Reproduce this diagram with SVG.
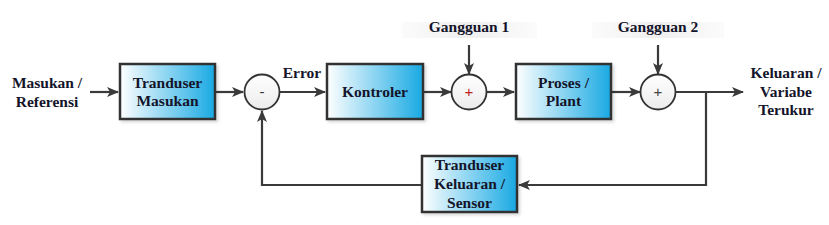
<svg xmlns="http://www.w3.org/2000/svg" width="829" height="225" viewBox="0 0 829 225">
<style>
.box{fill:url(#bg);stroke:#333;stroke-width:2.5}
.sum{fill:url(#cg);stroke:#333;stroke-width:1.8}
.t{font-family:'Liberation Serif',serif;font-weight:bold;font-size:15.5px;fill:#14142a;text-anchor:middle}
.w{fill:none;stroke:#3a3a3a;stroke-width:2.2}
.sign{font-family:'Liberation Sans',sans-serif;font-size:15px;text-anchor:middle}
</style>
<defs>
<linearGradient id="bg" x1="0" y1="0" x2="1" y2="0">
<stop offset="0" stop-color="#ffffff"/>
<stop offset="0.55" stop-color="#7fd0f0"/>
<stop offset="1" stop-color="#19a9e3"/>
</linearGradient>
<linearGradient id="cg" x1="0" y1="0" x2="0" y2="1">
<stop offset="0" stop-color="#ffffff"/>
<stop offset="1" stop-color="#ececec"/>
</linearGradient>
<linearGradient id="band" x1="0" y1="0" x2="1" y2="0">
<stop offset="0" stop-color="#f2f2f2" stop-opacity="0.3"/>
<stop offset="0.5" stop-color="#efefef"/>
<stop offset="1" stop-color="#f2f2f2" stop-opacity="0.3"/>
</linearGradient>
<marker id="ah" markerWidth="12" markerHeight="10" refX="11" refY="5" orient="auto" markerUnits="userSpaceOnUse">
<path d="M0,0 L12,5 L0,10 L3,5 Z" fill="#3a3a3a"/>
</marker>
<filter id="sh" x="-10%" y="-10%" width="130%" height="130%">
<feDropShadow dx="2" dy="2" stdDeviation="1.5" flood-color="#000" flood-opacity="0.15"/>
</filter>
</defs>

<g id="connectors">
<path class="w" d="M90,92 L118,92" marker-end="url(#ah)"/>
<path class="w" d="M216,92 L243,92" marker-end="url(#ah)"/>
<path class="w" d="M280,92 L325,92" marker-end="url(#ah)"/>
<path class="w" d="M424,92 L451,92" marker-end="url(#ah)"/>
<path class="w" d="M469,45 L469,74" marker-end="url(#ah)"/>
<path class="w" d="M487,92 L514,92" marker-end="url(#ah)"/>
<path class="w" d="M612,92 L640,92" marker-end="url(#ah)"/>
<path class="w" d="M658,45 L658,74" marker-end="url(#ah)"/>
<path class="w" d="M676,92 L743,92" marker-end="url(#ah)"/>
<path class="w" d="M706,92 L706,185 L519,185" marker-end="url(#ah)"/>
<path class="w" d="M421,185 L262,185 L262,111" marker-end="url(#ah)"/>
</g>

<g id="input">
<text class="t" x="47" y="88">Masukan /</text>
<text class="t" x="47" y="107">Referensi</text>
</g>

<g id="tranduser-masukan">
<rect class="box" x="120" y="64" width="95" height="55" filter="url(#sh)"/>
<text class="t" x="167.5" y="88">Tranduser</text>
<text class="t" x="167.5" y="106">Masukan</text>
</g>

<g id="sum-error">
<circle class="sum" cx="262" cy="92" r="17.5"/>
<text class="sign" x="262" y="97" fill="#333">-</text>
</g>

<g id="error-label">
<text class="t" x="302" y="78">Error</text>
</g>

<g id="kontroler">
<rect class="box" x="327" y="64" width="96" height="55" filter="url(#sh)"/>
<text class="t" x="375" y="97">Kontroler</text>
</g>

<g id="gangguan1">
<rect x="402" y="22" width="135" height="16" fill="url(#band)"/>
<text class="t" x="469" y="32">Gangguan 1</text>
</g>

<g id="sum1">
<circle class="sum" cx="469" cy="92" r="17.5"/>
<text class="sign" x="469" y="97" fill="#b22">+</text>
</g>

<g id="proses">
<rect class="box" x="516" y="64" width="95" height="55" filter="url(#sh)"/>
<text class="t" x="563.5" y="88">Proses /</text>
<text class="t" x="563.5" y="106">Plant</text>
</g>

<g id="gangguan2">
<rect x="592" y="22" width="132" height="16" fill="url(#band)"/>
<text class="t" x="658" y="32">Gangguan 2</text>
</g>

<g id="sum2">
<circle class="sum" cx="658" cy="92" r="17.5"/>
<text class="sign" x="658" y="97" fill="#444">+</text>
</g>

<g id="output">
<text class="t" x="786" y="78">Keluaran /</text>
<text class="t" x="786" y="97">Variabe</text>
<text class="t" x="786" y="115">Terukur</text>
</g>

<g id="tranduser-keluaran">
<rect class="box" x="422" y="156" width="95" height="56" filter="url(#sh)"/>
<text class="t" x="469.5" y="170">Tranduser</text>
<text class="t" x="469.5" y="189">Keluaran /</text>
<text class="t" x="469.5" y="208">Sensor</text>
</g>
</svg>
